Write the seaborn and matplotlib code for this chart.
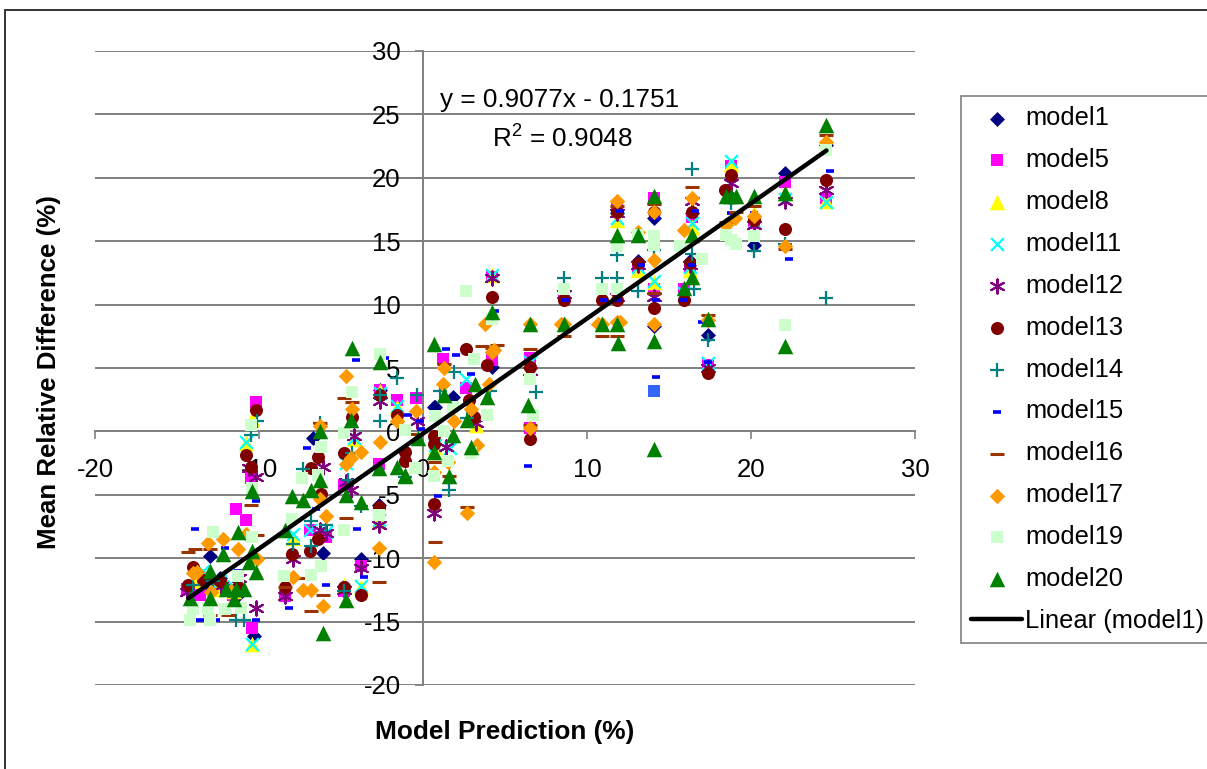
import numpy as np
import pandas as pd
import matplotlib
matplotlib.use("Agg")
import matplotlib.pyplot as plt
import seaborn as sns
from matplotlib.patches import Rectangle

# values, one x and one y list per model
m1_x = [24.6, 22.1, 20.2, 18.8, 17.4, 16.4, 16.3, 14.1, 14.1, 13.1, 11.8, 6.5, 4.2, 0.7, 1.8, 0.75, -6.7, -13.0, -6.1, -3.8, -2.7, -2.6, -4.8, -10.3, -13.5, -12.4, -11.2]
m1_y = [22.6, 20.4, 14.7, 18.5, 7.6, 17.2, 13.4, 16.8, 8.3, 13.4, 17.2, 5.0, 5.1, 1.95, 2.7, 1.9, -0.5, -9.8, -9.6, -10.1, -5.8, 3.3, -12.2, -16.1, -12.3, -11.6, -12.8]
m5_x = [24.6, 22.1, 20.2, 18.8, 17.4, 16.4, 16.3, 15.9, 14.1, 14.1, 13.1, 11.8, 11.8, 8.6, 6.5, 6.5, 4.2, 4.2, 1.2, 2.6, -0.4, -1.6, -2.6, -2.7, -4.8, -4.8, -3.8, -6.9, -5.9, -10.2, -10.5, -11.4, -10.8, -10.4, -8.4, -14.4, -13.6, -12.5, -11.6]
m5_y = [18.4, 19.7, 16.4, 20.9, 5.2, 16.9, 13.0, 11.2, 18.4, 11.2, 12.9, 17.7, 11.2, 10.8, 5.8, 0.3, 12.2, 5.6, 5.7, 3.4, 2.6, 2.5, 3.3, -2.6, -4.2, -12.6, -10.6, -7.8, -8.3, 2.3, -3.7, -6.1, -7.0, -15.5, -13.0, -12.4, -12.9, -12.3, -12.9]
m8_x = [24.6, 22.1, 20.2, 18.8, 17.4, 16.4, 16.3, 15.9, 14.1, 13.1, 11.8, 6.5, 4.2, 3.25, 0.75, -4.2, -7.9, -10.4, -10.8, -2.6, -2.7, -1.6, -3.8, -10.4, -4.8, -13.8, -12.7, -11.5]
m8_y = [18.2, 18.8, 17.2, 21.1, 5.1, 16.1, 12.7, 10.8, 11.8, 12.7, 16.7, 5.5, 12.3, 0.5, -1.2, -0.6, -8.4, 1.0, -0.9, 3.2, -7.1, 1.9, -12.3, -16.8, -12.1, -11.8, -12.4, -12.6]
m11_x = [24.6, 22.1, 20.2, 18.8, 17.4, 16.4, 16.3, 15.9, 14.1, 13.1, 11.8, 6.5, 4.2, 2.6, 0.75, 1.65, -4.2, -7.9, -10.8, -2.6, -2.7, -1.6, -3.8, -10.4, -4.7, -6.9, -5.9, -13.4, -12.4, -11.6]
m11_y = [18.1, 18.3, 16.5, 21.3, 5.4, 16.4, 13.0, 10.9, 11.9, 13.0, 16.8, 5.5, 12.3, 4.1, -1.1, -1.3, -0.5, -8.1, -0.8, 3.0, -7.0, 2.0, -12.2, -16.8, -2.5, -7.8, -7.9, -11.0, -11.8, -12.2]
m12_x = [24.6, 22.1, 20.2, 18.8, 17.4, 16.4, 16.3, 14.1, 13.1, 11.8, 11.8, 8.6, 6.5, 4.2, 3.25, 1.4, 0.7, -0.35, -2.6, -2.7, -4.2, -4.4, -4.7, -6.1, -6.3, -5.9, -7.9, -8.4, -10.2, -10.6, -10.2, -3.8, -4.8, -14.4, -13.2, -12.3, -11.2]
m12_y = [19.0, 18.2, 16.3, 19.6, 5.0, 18.2, 13.1, 10.6, 13.1, 17.2, 10.6, 10.8, 4.8, 12.1, 0.7, -1.2, -6.4, 0.8, 2.4, -7.4, -0.4, -4.6, -4.0, -2.8, -7.8, -8.0, -10.1, -13.0, -13.9, -2.9, -3.6, -10.8, -12.5, -12.7, -11.7, -12.2, -11.6]
m13_x = [24.6, 22.1, 20.2, 18.8, 18.4, 17.4, 16.4, 16.3, 15.9, 14.1, 14.1, 13.1, 11.8, 11.8, 10.9, 8.6, 6.5, 6.5, 4.2, 3.9, 2.6, 3.1, 2.8, 0.65, 0.65, 0.65, -1.1, -1.1, -1.6, -2.6, -2.7, -3.8, -4.3, -4.8, -4.8, -6.4, -6.4, -6.2, -6.8, -6.9, -8.0, -8.4, -10.2, -10.8, -10.5, -14.0, -14.3, -13.4, -12.4, -11.3]
m13_y = [19.8, 16.0, 16.7, 20.2, 19.0, 4.6, 17.3, 13.3, 10.4, 17.3, 9.7, 13.3, 17.3, 10.4, 10.4, 10.4, 5.1, -0.6, 10.6, 5.2, 6.5, 1.15, 2.5, -0.4, -1.0, -5.7, -2.3, -1.6, 1.3, 2.9, -6.0, -12.9, 1.1, -1.7, -12.3, -2.0, -8.5, -4.9, -2.9, -9.4, -9.7, -12.3, 1.7, -1.85, -2.8, -10.7, -12.1, -11.7, -11.8, -12.3]
m14_x = [24.6, 22.1, 20.2, 18.8, 17.4, 16.4, 16.4, 16.5, 14.1, 13.1, 11.8, 11.8, 10.9, 8.6, 6.9, 1.9, 1.05, 4.1, 2.7, 1.6, -0.35, -1.6, -2.6, -2.6, -1.1, -4.8, -3.8, -4.6, -4.3, -6.3, -7.3, -6.8, -6.8, -5.9, -7.9, -10.1, -10.5, -11.4, -10.9, -14.0, -12.8, -11.8]
m14_y = [10.5, 14.8, 14.2, 18.0, 7.2, 20.7, 14.0, 11.2, 14.3, 11.1, 13.9, 12.1, 12.1, 12.1, 3.1, 4.7, 3.2, 3.2, 1.05, -4.6, 2.9, 4.2, 0.8, 2.9, -3.6, -12.6, -5.9, -3.8, -1.7, 0.7, -3.0, -7.1, -9.0, -7.4, -8.9, 0.8, -0.3, -14.9, -14.9, -12.1, -11.8, -12.6]
m15_x = [24.8, 22.3, 20.2, 18.8, 17.4, 17.0, 16.6, 16.4, 15.9, 14.2, 14.2, 14.2, 13.3, 12.0, 11.9, 11.0, 8.7, 6.4, 4.4, 1.4, 2.0, 2.9, 0.9, -0.15, -4.1, -3.6, -4.0, -2.3, -0.9, -0.2, -7.1, -6.5, -5.9, -8.2, -10.2, -10.2, -13.9, -13.6, -12.6, -12.1, -11.3]
m15_y = [20.5, 13.6, 17.2, 17.2, 5.5, 8.6, 17.4, 13.1, 10.4, 16.8, 10.4, 4.3, 13.1, 17.4, 10.4, 10.4, 10.4, -2.7, 9.5, 6.5, 6.0, 4.5, -5.1, 0.2, 5.6, -11.5, -7.7, 5.8, 1.3, 0.8, -1.3, -6.1, -12.1, -13.9, -5.5, -14.9, -7.7, -14.9, -14.9, -9.2, -11.0]
m16_x = [24.6, 22.1, 20.2, 18.5, 19.1, 17.4, 16.4, 14.1, 14.1, 11.8, 11.8, 10.9, 8.6, 6.5, 6.5, 4.2, 3.6, 4.5, 1.25, 0.75, 0.75, 2.7, 1.6, -0.45, -4.8, -4.3, -4.7, -2.7, -6.1, -6.3, -6.8, -7.4, -8.4, -10.1, -10.5, -14.3, -13.9, -13.0, -13.0, -11.9]
m16_y = [23.4, 14.4, 17.8, 16.5, 17.3, 9.2, 19.3, 17.9, 10.9, 17.8, 7.5, 7.5, 7.5, 6.5, 0.5, 6.6, 6.7, 6.8, 5.3, -2.4, -8.7, -6.0, -3.5, -0.2, 2.6, 2.3, -6.8, -11.9, -12.9, 0.7, -14.2, -11.6, -12.3, -8.2, -5.8, -9.5, -9.3, -9.3, -14.5, -14.5]
m17_x = [24.6, 22.1, 20.2, 18.5, 19.0, 17.4, 16.4, 15.9, 14.1, 14.1, 14.1, 13.1, 11.8, 11.8, 12.0, 10.9, 10.7, 8.6, 8.4, 6.5, 6.5, 4.2, 3.8, 4.3, 1.3, 1.2, 4.0, 2.95, 1.9, -0.4, 0.7, 0.7, 1.5, 2.7, 3.3, -1.6, -2.6, -2.7, -4.7, -3.8, -4.4, -4.7, -4.3, -5.9, -6.3, -6.3, -6.1, -6.8, -7.3, -7.9, -10.1, -10.8, -11.3, -12.2, -13.1, -13.8, -14.0, -12.9, -11.7]
m17_y = [22.8, 14.6, 17.0, 16.3, 16.8, 8.8, 18.4, 15.9, 17.3, 13.5, 8.5, 15.7, 18.2, 8.6, 8.6, 8.5, 8.5, 8.5, 8.5, 8.5, 0.3, 6.3, 8.5, 6.4, 5.0, 3.7, 3.7, 1.8, 0.8, 1.6, -3.2, -10.3, -2.4, -6.4, -1.1, 0.8, -0.8, -9.2, 4.4, -1.6, -2.1, -2.6, 1.8, -6.7, 0.4, -5.3, -13.8, -12.5, -12.5, -11.5, -10.1, -8.1, -9.3, -8.5, -8.8, -11.1, -11.2, -12.7, -12.6]
m19_x = [24.6, 22.1, 20.2, 18.5, 18.8, 19.1, 17.0, 15.7, 14.1, 14.1, 13.1, 11.8, 11.8, 10.9, 8.6, 6.5, 6.7, 4.2, 2.6, 3.1, 3.9, 0.75, 1.8, 1.25, 0.65, 1.5, 2.9, -0.5, -1.1, -0.4, -2.6, -2.7, -4.3, -4.8, -4.8, -6.2, -6.4, -7.4, -8.0, -8.5, -6.8, -6.2, -10.5, -10.4, -10.4, -11.3, -12.8, -14.0, -13.1, -12.1, -11.1, -14.2, -13.0]
m19_y = [22.2, 8.4, 15.4, 15.5, 15.1, 14.8, 13.6, 14.6, 15.4, 14.7, 15.5, 14.6, 11.2, 11.2, 11.2, 4.1, 1.3, 8.9, 11.1, 5.7, 1.3, 1.2, 1.95, 0.0, -3.5, -2.3, -1.7, -2.9, 0.1, -2.9, 6.1, -6.6, 3.1, -0.1, -7.8, -1.2, -3.4, -3.7, -6.9, -11.4, -11.3, -10.6, 0.5, -4.5, -8.3, -11.4, -7.9, -14.0, -14.0, -14.0, -13.9, -14.9, -14.9]
m20_x = [24.6, 22.1, 22.1, 20.2, 18.5, 18.8, 19.1, 17.4, 16.4, 16.4, 15.9, 14.1, 14.1, 14.1, 13.1, 11.8, 11.8, 11.9, 10.9, 8.6, 6.5, 6.4, 4.2, 0.7, 1.25, 3.9, 3.2, 2.7, 1.8, 0.7, 2.9, -0.3, -1.1, 1.6, -4.3, -4.4, -4.7, -3.8, -4.7, -2.6, -2.7, -1.6, -1.1, -6.3, -6.8, -6.3, -7.3, -8.0, -8.4, -6.1, -10.4, -11.3, -10.6, -10.2, -10.4, -12.2, -13.0, -12.0, -11.4, -10.9, -14.2, -13.0, -11.5]
m20_y = [24.2, 18.8, 6.7, 18.6, 18.6, 18.6, 18.6, 8.9, 15.5, 12.2, 11.3, 18.6, 7.1, -1.4, 15.5, 15.5, 8.5, 7.0, 8.5, 8.5, 8.5, 2.1, 9.4, 6.9, 2.9, 2.7, 3.7, 0.9, -0.3, -1.6, -1.2, -0.5, -3.5, -3.5, 6.6, 0.9, -5.0, -5.6, -13.3, 5.5, -2.9, -2.8, -3.4, 0.0, -4.6, -3.8, -5.4, -5.1, -7.8, -15.9, -4.7, -7.9, -10.3, -11.1, -9.4, -9.7, -11.0, -12.4, -12.4, -12.4, -13.1, -13.1, -13.2]

model_names = ["model1", "model5", "model8", "model11", "model12", "model13",
               "model14", "model15", "model16", "model17", "model19", "model20"]
model_x = [m1_x, m5_x, m8_x, m11_x, m12_x, m13_x, m14_x, m15_x, m16_x, m17_x, m19_x, m20_x]
model_y = [m1_y, m5_y, m8_y, m11_y, m12_y, m13_y, m14_y, m15_y, m16_y, m17_y, m19_y, m20_y]

# the one odd blue square near x=14
odd_x = [14.1]
odd_y = [3.2]

trend_x = [-14.3, 24.6]
trend_slope = 0.9077
trend_icpt = -0.1751

x_ticks = [-20, -10, 0, 10, 20, 30]
y_ticks = [-20, -15, -10, -5, 0, 5, 10, 15, 20, 25, 30]

colors = ["#000080", "#FF00FF", "#FFFF00", "#00FFFF", "#800080", "#800000",
          "#008080", "#0000FF", "#993300", "#FF9900", "#CCFFCC", "#008000"]
markers = ["D", "s", "^", "x", (6, 2, 0), "o", "+", "_", "_", "D", "s", "^"]
sizes = [58, 78, 125, 85, 105, 88, 105, 32, 88, 62, 85, 125]
widths = [0, 0, 0, 1.6, 1.5, 0, 1.6, 2.6, 2.2, 0, 0, 0]

sns.set_theme(style="white")
plt.rcParams["font.family"] = ["Liberation Sans", "DejaVu Sans"]
plt.rcParams["mathtext.default"] = "regular"
plt.rcParams["axes.unicode_minus"] = False

W, H = 1207, 769
fig = plt.figure(figsize=(W / 100, H / 100), dpi=100, facecolor="white")
rect = [95 / W, 1 - 685 / H, 820 / W, 634 / H]

# grid and axes lines go under the markers, tick labels on top of them
ax_bg = fig.add_axes(rect, zorder=1)
ax = fig.add_axes(rect, zorder=2, facecolor="none")

for a in (ax_bg, ax):
    a.set_xlim(-20, 30)
    a.set_ylim(-20, 30)
    a.set_xticks(x_ticks)
    a.set_yticks(y_ticks)
    for side in ("top", "right"):
        a.spines[side].set_visible(False)
    a.spines["left"].set_position(("data", 0))
    a.spines["bottom"].set_position(("data", 0))

ax_bg.grid(axis="y", color="#808080", linewidth=1.4)
ax_bg.grid(axis="x", visible=False)
ax_bg.spines["left"].set_color("#808080")
ax_bg.spines["bottom"].set_color("#808080")
ax_bg.spines["left"].set_linewidth(1.4)
ax_bg.spines["bottom"].set_linewidth(1.4)
ax_bg.tick_params(axis="both", direction="out", length=6, width=1.2, color="#808080",
                  labelbottom=False, labelleft=False, bottom=True, left=True)

ax.spines["left"].set_visible(False)
ax.spines["bottom"].set_visible(False)
ax.tick_params(axis="x", length=0, pad=19, labelsize=18.5, labelcolor="black")
ax.tick_params(axis="y", length=0, pad=16, labelsize=18.5, labelcolor="black")

for i, name in enumerate(model_names):
    df = pd.DataFrame({"x": model_x[i], "y": model_y[i]})
    sns.scatterplot(data=df, x="x", y="y", ax=ax, color=colors[i], marker=markers[i],
                    s=sizes[i], linewidth=widths[i], label=name, zorder=1)

sns.scatterplot(x=odd_x, y=odd_y, ax=ax, color="#3366FF", marker="s", s=85, linewidth=0, zorder=1)

trend_xs = np.array(trend_x)
sns.lineplot(x=trend_xs, y=trend_slope * trend_xs + trend_icpt, ax=ax, color="black",
             linewidth=3.2, label="Linear (model1)", zorder=1.5)

ax.set_xlabel("Model Prediction (%)", fontsize=18.9, fontweight="bold", color="black")
ax.set_ylabel("Mean Relative Difference (%)", fontsize=18.6, fontweight="bold", color="black")
ax.xaxis.set_label_coords(0.5, -0.055)
ax.yaxis.set_label_coords(-0.0415, 0.494)

fig.text(560 / W, 1 - 100 / H, "y = 0.9077x - 0.1751", fontsize=18.8, ha="center", va="center",
         color="black", zorder=5)
fig.text(562 / W, 1 - 139 / H, "R$^2$ = 0.9048", fontsize=18.8, ha="center", va="center",
         color="black", zorder=5)

handles, labels = ax.get_legend_handles_labels()
ax.get_legend().remove()
leg = fig.legend(handles, labels, loc="upper left", bbox_to_anchor=(961 / W, 1 - 96 / H),
                 borderaxespad=0, fontsize=18.4, frameon=True, fancybox=False, framealpha=1,
                 edgecolor="#808080", labelspacing=0.7, borderpad=0.4, handlelength=2.0,
                 handletextpad=0.12, labelcolor="black")
leg.get_frame().set_linewidth(1.2)
leg.set_zorder(6)

# outer chart border runs off the right and bottom of the image
fig.add_artist(Rectangle((5 / W, -0.01), 1.02, 1 - 10 / H + 0.01, transform=fig.transFigure,
                         fill=False, edgecolor="#333333", linewidth=1.4))

fig.savefig("out.png", dpi=100)
